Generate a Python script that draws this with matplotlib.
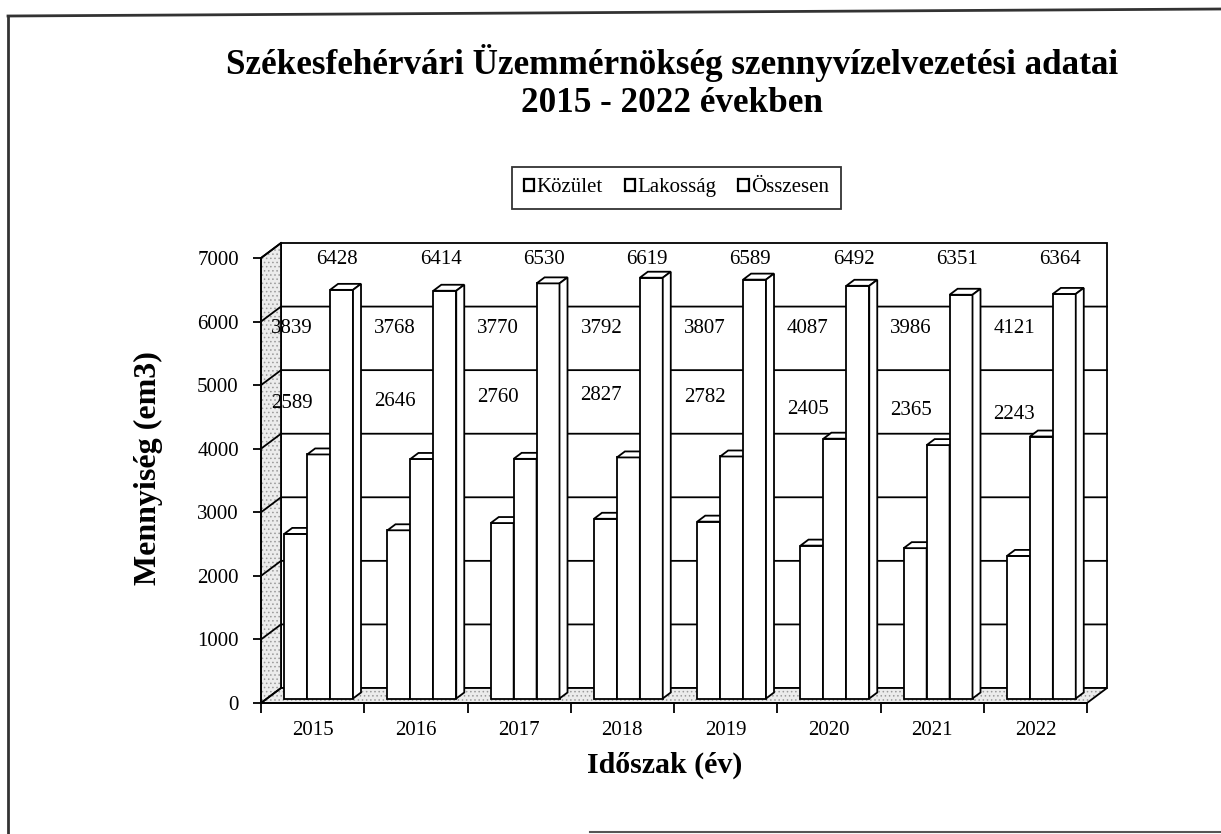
import matplotlib
matplotlib.use("Agg")
import matplotlib.pyplot as plt
from matplotlib.patches import Polygon, Patch
from matplotlib.lines import Line2D

# ---- data ----
years = ["2015", "2016", "2017", "2018", "2019", "2020", "2021", "2022"]
series_names = ["Közület", "Lakosság", "Összesen"]
kozulet = [2589, 2646, 2760, 2827, 2782, 2405, 2365, 2243]
lakossag = [3839, 3768, 3770, 3792, 3807, 4087, 3986, 4121]
osszesen = [6428, 6414, 6530, 6619, 6589, 6492, 6351, 6364]
yticks = [0, 1000, 2000, 3000, 4000, 5000, 6000, 7000]

title = "Székesfehérvári Üzemmérnökség szennyvízelvezetési adatai\n2015 - 2022 években"
xlabel = "Időszak (év)"
ylabel = "Mennyiség (em3)"

SERIF = ["Liberation Serif", "DejaVu Serif"]
plt.rcParams["font.family"] = SERIF
plt.rcParams["hatch.linewidth"] = 0.6

W, H = 1221, 834
fig = plt.figure(figsize=(W / 100, H / 100), dpi=100)

# front plane of the 3D box, in pixels
L, R, B, T = 261, 1087, 703, 258
ax = fig.add_axes([L / W, (H - B) / H, (R - L) / W, (B - T) / H])
n = len(years)
ymax = 7000
ax.set_xlim(0, n)
ax.set_ylim(0, ymax)

# depth vector (pixels) -> data units
dpx, dpy = 20, 15
Dx = dpx / ((R - L) / n)
Dy = dpy / ((B - T) / ymax)


def P(x, y, d):
    return (x + d * Dx, y + d * Dy)


lw = 1.3
# back wall
ax.add_patch(Polygon([P(0, 0, 1), P(n, 0, 1), P(n, ymax, 1), P(0, ymax, 1)],
                     closed=True, fc="white", ec="black", lw=lw, clip_on=False, zorder=1))
# left wall (stippled)
lw_pts = [P(0, 0, 0), P(0, 0, 1), P(0, ymax, 1), P(0, ymax, 0)]
ax.add_patch(Polygon(lw_pts, closed=True, fc="#ececec", ec="#9a9a9a", hatch="....",
                     lw=0, clip_on=False, zorder=1.1))
ax.add_patch(Polygon(lw_pts, closed=True, fill=False, ec="black", lw=lw,
                     clip_on=False, zorder=1.2))
# floor (stippled)
fl_pts = [P(0, 0, 0), P(n, 0, 0), P(n, 0, 1), P(0, 0, 1)]
ax.add_patch(Polygon(fl_pts, closed=True, fc="#ececec", ec="#9a9a9a", hatch="....",
                     lw=0, clip_on=False, zorder=1.1))
ax.add_patch(Polygon(fl_pts, closed=True, fill=False, ec="black", lw=lw,
                     clip_on=False, zorder=1.2))
# gridlines on walls
for v in yticks[1:-1]:
    a, b, c = P(0, v, 0), P(0, v, 1), P(n, v, 1)
    ax.add_line(Line2D([a[0], b[0], c[0]], [a[1], b[1], c[1]], color="black",
                       lw=lw, clip_on=False, zorder=1.3))
a, b = P(0, ymax, 0), P(0, ymax, 1)
ax.add_line(Line2D([a[0], b[0]], [a[1], b[1]], color="black", lw=lw, clip_on=False, zorder=1.3))

# bars
w = 0.222
df, db = 0.3, 0.7
series = [kozulet, lakossag, osszesen]
z = 2
for j, vals in enumerate(series):
    x0s = [i + 0.5 + (j - 1.5) * w for i in range(n)]
    ax.bar([x + df * Dx for x in x0s], vals, width=w, bottom=df * Dy, align="edge",
           fc="white", ec="black", lw=lw, zorder=z, clip_on=False)
    for x0, v in zip(x0s, vals):
        x1 = x0 + w
        ax.add_patch(Polygon([P(x0, v, df), P(x1, v, df), P(x1, v, db), P(x0, v, db)],
                             closed=True, fc="white", ec="black", lw=lw, zorder=z, clip_on=False))
        ax.add_patch(Polygon([P(x1, 0, df), P(x1, 0, db), P(x1, v, db), P(x1, v, df)],
                             closed=True, fc="white", ec="black", lw=lw, zorder=z, clip_on=False))
    z += 0.1

# data labels (placed as in the original chart)
fs_lab = 15
for i in range(n):
    xk = i + 0.5 - 1.5 * w + w / 2 + df * Dx - 0.04
    xo = i + 0.5 + 0.5 * w + w / 2 + df * Dx - 0.04
    ax.text(xk, 0.5 * kozulet[i] + 3420, str(kozulet[i]), ha="center", va="center",
            fontsize=fs_lab, zorder=5)
    ax.text(xk, 5890, str(lakossag[i]), ha="center", va="center",
            fontsize=fs_lab, zorder=5)
    ax.text(xo, 6970, str(osszesen[i]), ha="center", va="center",
            fontsize=fs_lab, zorder=5)

# axes styling
for s in ["top", "right"]:
    ax.spines[s].set_visible(False)
for s in ["left", "bottom"]:
    ax.spines[s].set_linewidth(lw)
    ax.spines[s].set_zorder(6)
ax.set_facecolor("none")
ax.set_yticks(yticks)
ax.set_yticklabels([str(v) for v in yticks], fontsize=15)
ax.tick_params(axis="y", direction="out", length=6, width=lw, pad=10)
ax.set_xticks([i + 0.5 for i in range(n)])
ax.set_xticklabels(years, fontsize=15)
ax.set_xticks(range(n + 1), minor=True)
ax.tick_params(axis="x", which="major", length=0, pad=13)
ax.tick_params(axis="x", which="minor", direction="out", length=7, width=lw)

fig.text(672 / W, 1 - 82 / H, title, ha="center", va="center", fontsize=25.3,
         fontweight="bold", linespacing=1.2)
fig.text(148 / W, 1 - 468 / H, ylabel, rotation=90, ha="center", va="center",
         fontsize=23, fontweight="bold")
fig.text(665 / W, 1 - 765 / H, xlabel, ha="center", va="center", fontsize=21.5,
         fontweight="bold")

handles = [Patch(fc="white", ec="black", lw=1.6) for _ in series_names]
leg = fig.legend(handles, series_names, loc="center", bbox_to_anchor=(676.5 / W, 1 - 188 / H),
                 ncol=3, fontsize=15, frameon=True, fancybox=False, edgecolor="black",
                 handlelength=0.5, handleheight=0.5, handletextpad=0.12, columnspacing=1.05,
                 borderpad=0.55, borderaxespad=0)
leg.get_frame().set_linewidth(1.3)

# page border (scanned frame)
fig.add_artist(Line2D([8 / W, 8 / W], [0, 1 - 16 / H], color="#333333", lw=2))
fig.add_artist(Line2D([8 / W, 1.0], [1 - 16 / H, 1 - 9 / H], color="#333333", lw=2))
fig.add_artist(Line2D([590 / W, 1.0], [1 - 832 / H, 1 - 832 / H], color="#555555", lw=1.5))

fig.savefig("out.png", dpi=100)
